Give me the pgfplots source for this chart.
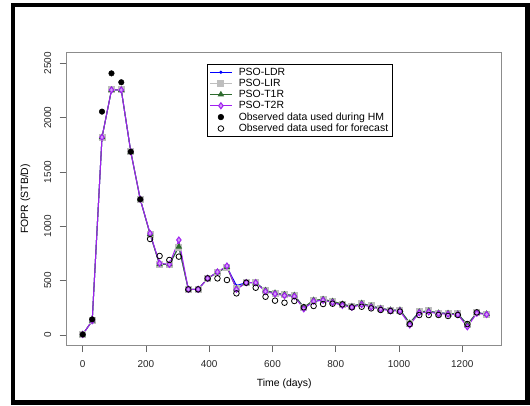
\documentclass[border=0pt]{standalone}
\usepackage{pgfplots}
\pgfplotsset{compat=1.18}
\usepackage{fontspec}
\setmainfont{Liberation Sans}
\definecolor{rblue}{HTML}{0000FF}
\definecolor{rgray}{HTML}{BEBEBE}
\definecolor{rgreen}{HTML}{2E6B2E}
\definecolor{rpurple}{HTML}{A020F0}
\begin{document}
\begin{tikzpicture}[x=1bp,y=1bp]
\useasboundingbox (0,0) rectangle (530,405);
\draw[line width=4.5bp] (13,2.5) rectangle (527.5,400);
\begin{axis}[
 at={(66.7bp,60bp)}, anchor=south west,
 scale only axis, width=435bp, height=292.3bp,
 xmin=-50.6, xmax=1324.7, ymin=-92, ymax=2597,
 xtick={0,200,...,1200}, ytick={0,500,...,2500},
 tick align=outside, major tick length=7bp,
 axis line style={black!45, line width=0.8bp},
 every tick/.style={black!60, line width=0.8bp},
 xtick pos=bottom, ytick pos=left,
 tick label style={font=\fontsize{10}{12}\selectfont, text=black!85},
 yticklabel={\rotatebox{90}{\pgfmathprintnumber{\tick}}},
 yticklabel style={anchor=east, xshift=-5bp},
 xticklabel shift=5bp,
 /pgf/number format/assume math mode=true,
 scaled ticks=false,
 /pgf/number format/1000 sep={},
 xlabel={Time (days)}, ylabel={FOPR (STB/D)},
 label style={font=\fontsize{10.5}{12}\selectfont},
 xlabel style={at={(axis description cs:0.5,-0.1334)},anchor=center},
 ylabel style={at={(axis description cs:-0.095,0.5)},anchor=center},
 legend style={at={(axis description cs:0.3218,0.9613)}, anchor=north west,
   draw=black, line width=0.6bp, font=\fontsize{10.5}{11}\selectfont,
   inner xsep=2bp, inner ysep=1.5bp, row sep=-1.6bp, cells={anchor=west}},
 legend image code/.code={\path[draw=none,fill=none] (0cm,0cm) (0.98cm,0cm);\draw[mark repeat=2,mark phase=2,#1] plot coordinates {(0.05cm,0cm) (0.42cm,0cm) (0.8cm,0cm)};},
]
% PSO-LDR
\addplot[rblue, line width=1bp, mark=*, mark size=1bp] coordinates {
(0,5) (30,131) (61,1819) (91,2254) (122,2254) (152,1686) (182,1248) (213,929) (243,650) (274,650)
(304,812) (334,420) (365,420) (395,521) (426,577) (456,625) (486,455) (517,481) (547,481) (578,410)
(608,386) (638,372) (669,364) (699,255) (730,305) (760,328) (790,300) (821,284) (851,262) (882,291)
(912,267) (942,245) (973,230) (1003,230) (1034,110) (1064,212) (1094,221) (1125,202) (1155,199) (1186,195)
(1216,95) (1246,205) (1277,193)};
\addlegendentry{PSO-LDR}
% PSO-LIR
\addplot[rgray, line width=1bp, mark=square*, mark size=3bp] coordinates {
(0,5) (30,131) (61,1819) (91,2254) (122,2254) (152,1686) (182,1248) (213,925) (243,650) (274,650)
(304,808) (334,420) (365,420) (395,521) (426,575) (456,622) (486,425) (517,481) (547,481) (578,410)
(608,386) (638,372) (669,364) (699,255) (730,320) (760,328) (790,310) (821,284) (851,262) (882,291)
(912,267) (942,245) (973,230) (1003,230) (1034,110) (1064,212) (1094,221) (1125,202) (1155,199) (1186,195)
(1216,95) (1246,205) (1277,193)};
\addlegendentry{PSO-LIR}
% PSO-T1R
\addplot[rgreen, line width=1bp, mark=triangle*, mark size=2.8bp] coordinates {
(0,5) (30,131) (61,1819) (91,2254) (122,2254) (152,1686) (182,1248) (213,929) (243,650) (274,650)
(304,812) (334,420) (365,420) (395,521) (426,577) (456,625) (486,425) (517,481) (547,481) (578,410)
(608,386) (638,372) (669,364) (699,255) (730,320) (760,328) (790,310) (821,284) (851,262) (882,291)
(912,267) (942,245) (973,230) (1003,230) (1034,110) (1064,212) (1094,221) (1125,202) (1155,199) (1186,195)
(1216,95) (1246,205) (1277,193)};
\addlegendentry{PSO-T1R}
% PSO-T2R
\addplot[rpurple, line width=1bp, mark=diamond*, mark size=3bp, mark options={fill=rpurple!45}] coordinates {
(0,5) (30,131) (61,1819) (91,2254) (122,2254) (152,1686) (182,1248) (213,935) (243,660) (274,650)
(304,874) (334,420) (365,420) (395,521) (426,580) (456,635) (486,420) (517,481) (547,481) (578,400)
(608,378) (638,362) (669,355) (699,240) (730,310) (760,320) (790,300) (821,272) (851,255) (882,280)
(912,257) (942,238) (973,222) (1003,222) (1034,92) (1064,205) (1094,212) (1125,195) (1155,192) (1186,188)
(1216,75) (1246,200) (1277,188)};
\addlegendentry{PSO-T2R}
% Observed (HM)
\addplot[only marks, mark=*, mark size=2.8bp, black] coordinates {
(0,5) (30,144) (61,2055) (91,2407) (122,2325) (152,1686) (182,1248)};
\addlegendentry{Observed data used during HM}
% Observed (forecast)
\addplot[only marks, mark=o, mark size=2.8bp, black, line width=0.8bp] coordinates {
(213,883) (243,727) (274,690) (304,721) (334,420) (365,420) (395,521) (426,521) (456,506) (486,383)
(517,481) (547,435) (578,352) (608,316) (638,297) (669,313) (699,255) (730,267) (760,285) (790,288)
(821,282) (851,255) (882,260) (912,245) (942,230) (973,221) (1003,215) (1034,101) (1064,184) (1094,184)
(1125,184) (1155,175) (1186,184) (1216,101) (1246,208)};
\addlegendentry{Observed data used for forecast}
\end{axis}
\end{tikzpicture}
\end{document}
